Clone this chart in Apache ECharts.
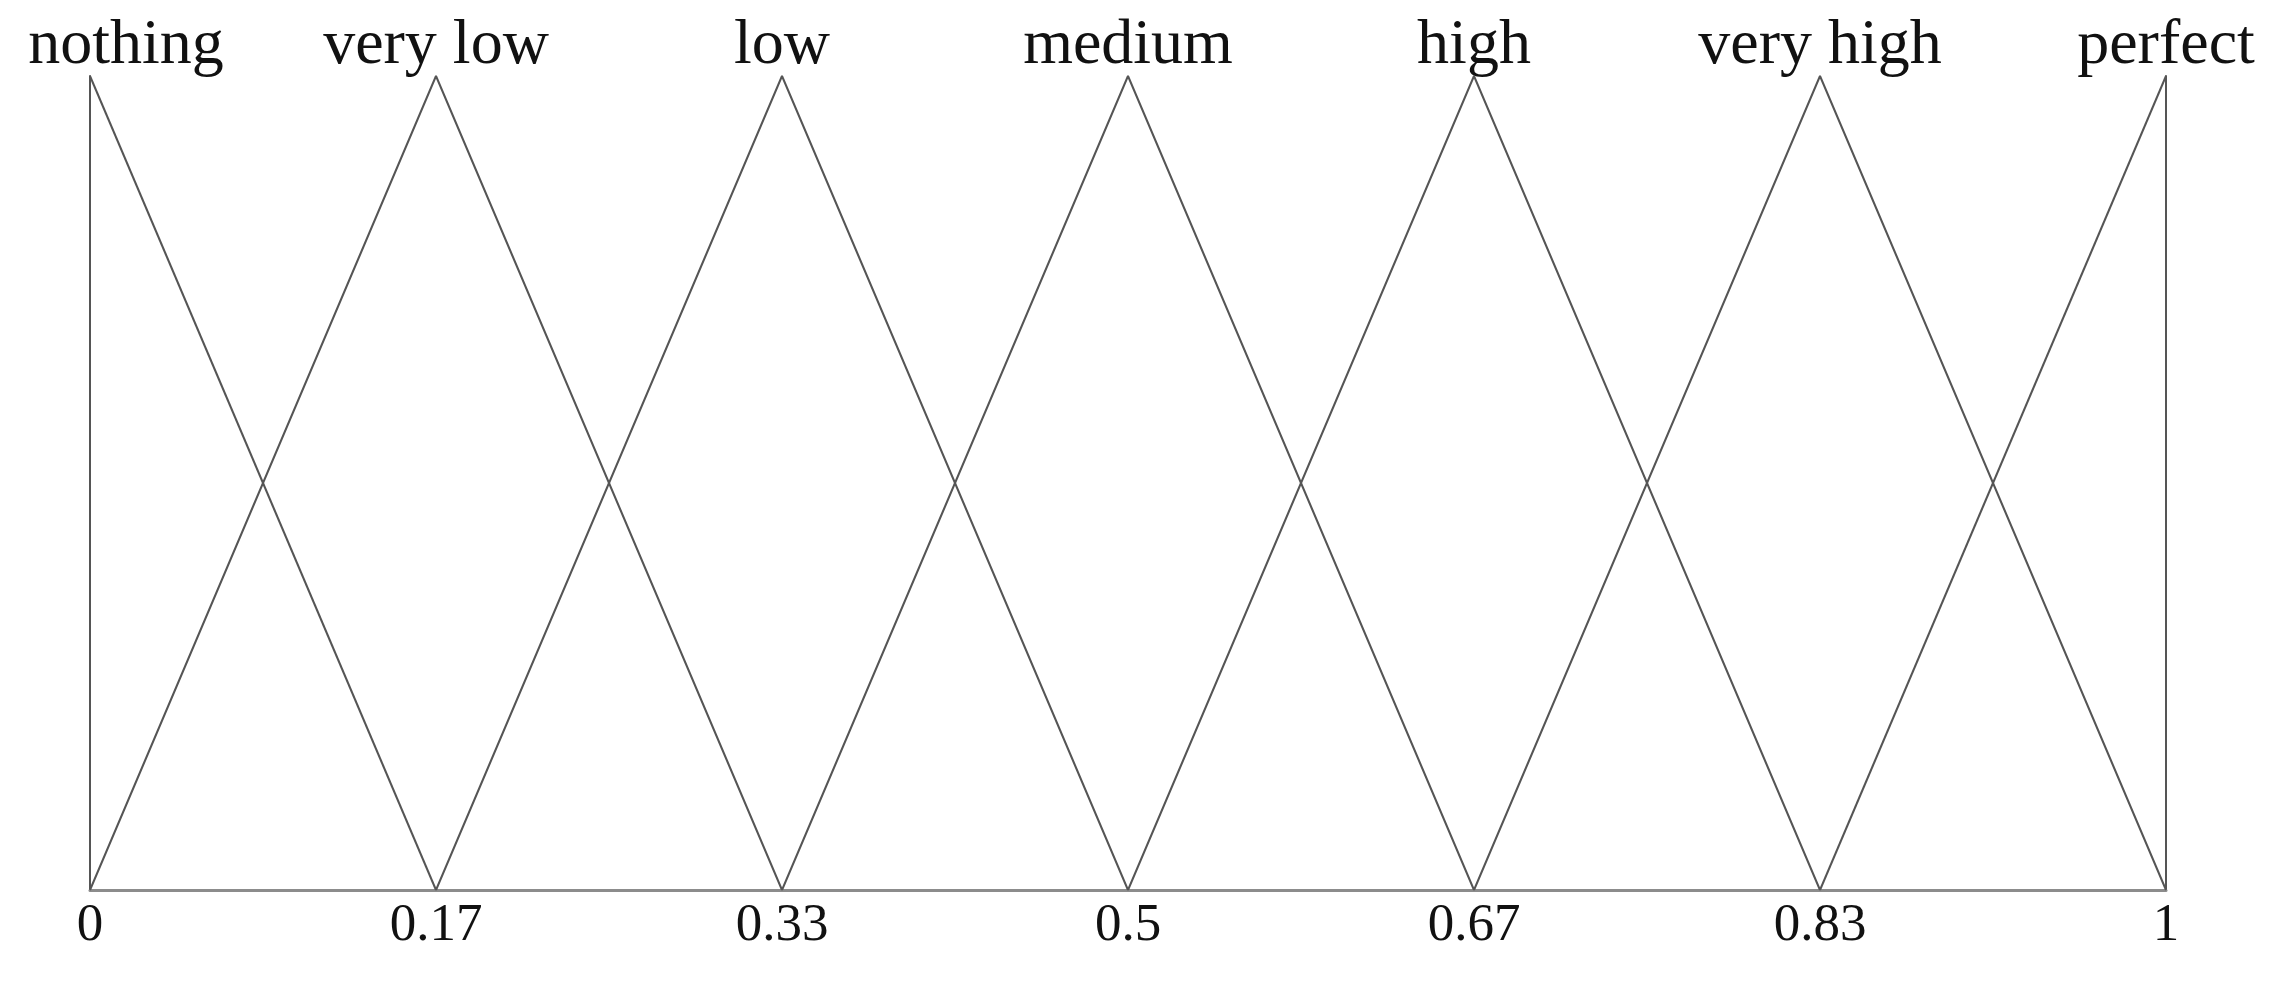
<!DOCTYPE html>
<html>
<head>
<meta charset="utf-8">
<title>Membership functions</title>
<script src="https://cdn.jsdelivr.net/npm/echarts@6/dist/echarts.min.js"></script>
<style>
  html, body { margin: 0; padding: 0; background: #fff; }
  #chart { width: 2295px; height: 990px; }
</style>
</head>
<body>
<div id="chart"></div>
<script>
  // x-axis tick labels (evenly spaced sixths)
  const ticks = ["0", "0.17", "0.33", "0.5", "0.67", "0.83", "1"];
  // linguistic terms, one triangle each
  const terms = ["nothing", "very low", "low", "medium", "high", "very high", "perfect"];
  // membership degree of each term at each tick (null = not drawn)
  const nothing  = [1, 0, null, null, null, null, null];
  const veryLow  = [0, 1, 0, null, null, null, null];
  const low      = [null, 0, 1, 0, null, null, null];
  const medium   = [null, null, 0, 1, 0, null, null];
  const high     = [null, null, null, 0, 1, 0, null];
  const veryHigh = [null, null, null, null, 0, 1, 0];
  const perfect  = [null, null, null, null, null, 0, 1];
  const values = [nothing, veryLow, low, medium, high, veryHigh, perfect];

  const FONT = "'Liberation Serif', 'Times New Roman', serif";
  const LINE = "#555";

  const chart = echarts.init(document.getElementById("chart"), null, { renderer: "canvas" });

  const series = terms.map((name, i) => ({
    name, type: "line", data: values[i], silent: true,
    // labels hang off the symbol, so keep an invisible one
    symbol: "circle", symbolSize: 1, showSymbol: true,
    itemStyle: { color: "rgba(0,0,0,0)" },
    lineStyle: { color: LINE, width: 2 },
    label: {
      show: true, position: "top", distance: -3,
      offset: i === 0 ? [36, 0] : [0, 0],
      color: "#111", fontFamily: FONT, fontSize: 64,
      formatter: (p) => (p.value === 1 ? p.seriesName : ""),
    },
  }));

  chart.setOption({
    animation: false,
    backgroundColor: "#fff",
    grid: { left: 90, right: 129, top: 76, bottom: 100 },
    xAxis: {
      type: "category", data: ticks, boundaryGap: false,
      axisLine: { lineStyle: { color: "#8c8c8c", width: 3 } },
      axisTick: { show: false },
      splitLine: { show: false },
      axisLabel: { color: "#111", fontFamily: FONT, fontSize: 53, margin: 10, interval: 0 },
    },
    yAxis: [
      { type: "value", min: 0, max: 1, position: "left",
        axisLine: { show: true, lineStyle: { color: LINE, width: 2 } },
        axisTick: { show: false }, axisLabel: { show: false }, splitLine: { show: false } },
      { type: "value", min: 0, max: 1, position: "right",
        axisLine: { show: true, onZero: false, lineStyle: { color: LINE, width: 2 } },
        axisTick: { show: false }, axisLabel: { show: false }, splitLine: { show: false } },
    ],
    series,
  });
</script>
</body>
</html>
